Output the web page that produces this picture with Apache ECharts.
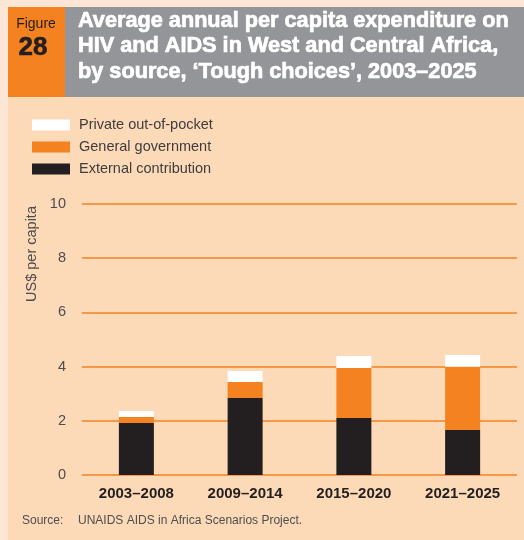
<!DOCTYPE html>
<html><head><meta charset="utf-8">
<script src="https://cdn.jsdelivr.net/npm/echarts@6/dist/echarts.min.js"></script>
<style>html,body{margin:0;padding:0;background:#fde6d6;}#c{width:524px;height:540px;}</style>
</head><body><div id="c"></div>
<script>
const categories = ['2003–2008', '2009–2014', '2015–2020', '2021–2025'];
const external = [1.92, 2.84, 2.10, 1.66];
const government = [0.22, 0.59, 1.85, 2.33];
const privateOOP = [0.22, 0.41, 0.44, 0.44];
const yTicks = [0, 2, 4, 6, 8, 10];

const FONT = '"Liberation Sans", Arial, sans-serif';
const TITLE_FONT = 'bold 21.7px ' + FONT;
const chart = echarts.init(document.getElementById('c'), null, {renderer: 'canvas'});
chart.setOption({
  backgroundColor: '#fde6d6',
  animation: false,
  graphic: [
    {type: 'rect', shape: {x: 8, y: 7, width: 516, height: 533}, style: {fill: '#fcd9b7'}, z: -10},
    {type: 'rect', shape: {x: 8, y: 7, width: 57, height: 90}, style: {fill: '#f58220'}},
    {type: 'rect', shape: {x: 65, y: 7, width: 459, height: 90}, style: {fill: '#939598'}},
    {type: 'text', x: 36, y: 24, style: {text: 'Figure', font: '14px "Liberation Sans Narrow", "Liberation Sans", sans-serif', fill: '#231f20', textAlign: 'center', textVerticalAlign: 'middle'}},
    {type: 'text', x: 33, y: 48, style: {text: '28', font: 'bold 26px "Liberation Sans", sans-serif', fill: '#231f20', stroke: '#231f20', lineWidth: 0.6, textAlign: 'center', textVerticalAlign: 'middle'}},
    {type: 'text', x: 78, y: 21, style: {text: 'Average annual per capita expenditure on', font: TITLE_FONT, fill: '#ffffff', stroke: '#ffffff', lineWidth: 0.7, textVerticalAlign: 'middle'}},
    {type: 'text', x: 78, y: 46, style: {text: 'HIV and AIDS in West and Central Africa,', font: TITLE_FONT, fill: '#ffffff', stroke: '#ffffff', lineWidth: 0.7, textVerticalAlign: 'middle'}},
    {type: 'text', x: 78, y: 72, style: {text: 'by source, \u2018Tough choices\u2019, 2003\u20132025', font: TITLE_FONT, fill: '#ffffff', stroke: '#ffffff', lineWidth: 0.7, textVerticalAlign: 'middle'}},
    {type: 'text', x: 32, y: 254, rotation: Math.PI / 2, style: {text: 'US$ per capita', font: '14.5px ' + FONT, fill: '#4d4d4f', textAlign: 'center', textVerticalAlign: 'middle'}},
    {type: 'text', x: 22, y: 521, style: {text: 'Source:', font: '12px ' + FONT, fill: '#4d4d4f', textVerticalAlign: 'middle'}},
    {type: 'text', x: 78, y: 521, style: {text: 'UNAIDS AIDS in Africa Scenarios Project.', font: '12px ' + FONT, fill: '#4d4d4f', textVerticalAlign: 'middle'}}
  ],
  legend: {
    orient: 'vertical', left: 27, top: 112, itemWidth: 38, itemHeight: 11, itemGap: 6,
    icon: 'rect',
    data: ['Private out-of-pocket', 'General government', 'External contribution'],
    textStyle: {fontFamily: FONT, fontSize: 14.5, color: '#3d3d3f', lineHeight: 16, padding: [0, 0, 0, 4]},
    selectedMode: false
  },
  grid: {left: 82, right: 7, top: 204, bottom: 65, containLabel: false},
  xAxis: {
    type: 'category', data: categories,
    axisLine: {show: false}, axisTick: {show: false},
    axisLabel: {fontFamily: FONT, fontSize: 15, fontWeight: 'bold', color: '#231f20', margin: 11}
  },
  yAxis: {
    type: 'value', min: 0, max: 10, interval: 2,
    axisLine: {show: false}, axisTick: {show: false},
    splitLine: {lineStyle: {color: '#f58220', width: 1.5}},
    axisLabel: {fontFamily: FONT, fontSize: 14.5, color: '#4d4d4f', margin: 16,
      formatter: v => yTicks.includes(v) ? String(v) : ''}
  },
  series: [
    {name: 'External contribution', type: 'bar', stack: 's', data: external, barWidth: 35, itemStyle: {color: '#231f20'}},
    {name: 'General government', type: 'bar', stack: 's', data: government, itemStyle: {color: '#f58220'}},
    {name: 'Private out-of-pocket', type: 'bar', stack: 's', data: privateOOP, itemStyle: {color: '#ffffff'}}
  ]
});
</script></body></html>
